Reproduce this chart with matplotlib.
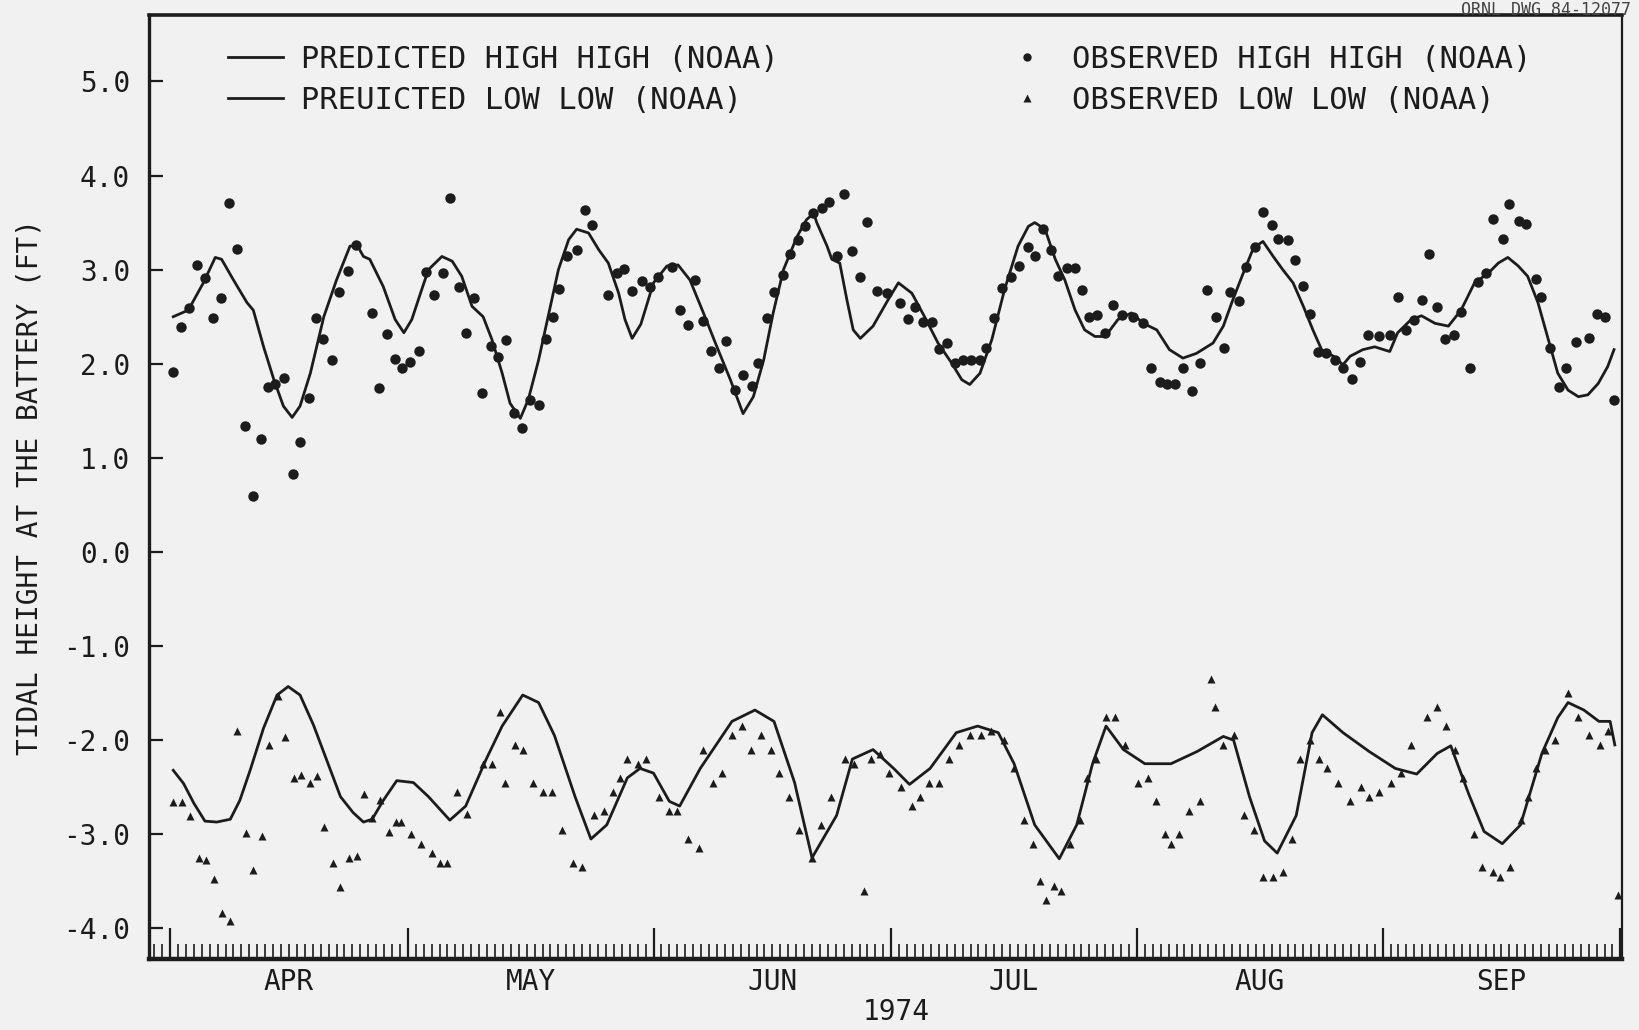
"""Predicted vs observed tidal heights at the Battery, 1974."""

import matplotlib

matplotlib.use("Agg")

import matplotlib.pyplot as plt
from matplotlib.lines import Line2D
from matplotlib.transforms import blended_transform_factory

# x = days after 1 April 1974
MONTH_STARTS = [0, 30, 61, 91, 122, 153, 183]
MONTH_MIDS = [15, 45.5, 76, 106.5, 137.5, 168]
MONTH_NAMES = ["APR", "MAY", "JUN", "JUL", "AUG", "SEP"]

pred_high_day = [0.4, 2.3, 4.2, 5.7, 6.5, 8.0, 9.7, 10.5, 11.8, 13.1, 14.3, 15.4, 16.4,
                 17.7, 19.4, 21.0, 22.7, 23.6, 24.4, 25.2, 26.9, 28.4, 29.5, 30.5, 31.6,
                 32.6, 34.3, 35.6, 36.8, 38.1, 39.5, 40.6, 41.9, 42.9, 44.2, 45.2, 46.5,
                 47.7, 49.0, 50.3, 51.3, 52.8, 54.1, 55.3, 56.6, 57.4, 58.3, 59.4, 61.0,
                 62.7, 64.1, 65.6, 67.3, 69.0, 70.7, 72.3, 73.6, 74.9, 76.1, 77.4, 79.1,
                 80.3, 81.2, 81.6, 82.9, 83.5, 84.5, 85.4, 86.2, 87.1, 88.7, 90.6, 91.9,
                 93.6, 95.2, 96.9, 98.6, 99.9, 100.9, 102.2, 103.7, 105.3, 107.0, 108.3,
                 109.1, 110.4, 111.7, 112.9, 114.2, 115.4, 116.7, 118.0, 119.6, 121.3,
                 122.8, 124.5, 126.1, 127.8, 129.5, 131.6, 132.9, 134.1, 135.4, 136.7,
                 137.9, 139.2, 140.4, 141.7, 143.0, 144.2, 145.3, 146.8, 148.0, 148.9,
                 150.5, 152.0, 153.9, 154.9, 156.6, 157.9, 159.6, 161.3, 162.9, 164.6,
                 166.3, 167.6, 168.8, 170.1, 171.3, 172.6, 173.9, 175.1, 176.4, 177.7,
                 178.9, 180.2, 181.4, 182.2]
pred_high_ft = [2.50, 2.57, 2.86, 3.13, 3.11, 2.89, 2.65, 2.57, 2.18, 1.83, 1.55, 1.43, 1.55,
                1.90, 2.50, 2.89, 3.25, 3.26, 3.14, 3.11, 2.82, 2.47, 2.33, 2.47, 2.75,
                3.00, 3.14, 3.09, 2.93, 2.61, 2.50, 2.26, 1.90, 1.58, 1.42, 1.62, 2.04,
                2.50, 3.00, 3.32, 3.43, 3.39, 3.21, 3.07, 2.75, 2.47, 2.27, 2.42, 2.86,
                3.04, 3.05, 2.89, 2.54, 2.18, 1.83, 1.47, 1.65, 2.04, 2.54, 3.00, 3.35,
                3.53, 3.60, 3.50, 3.25, 3.11, 3.07, 2.68, 2.36, 2.27, 2.40, 2.68, 2.86,
                2.75, 2.50, 2.22, 2.01, 1.83, 1.78, 1.90, 2.26, 2.79, 3.25, 3.46,
                3.50, 3.43, 3.11, 2.89, 2.57, 2.36, 2.29, 2.29, 2.47, 2.54,
                2.43, 2.36, 2.15, 2.06, 2.11, 2.22, 2.40, 2.68, 2.96, 3.23,
                3.30, 3.14, 3.00, 2.86, 2.61, 2.36, 2.15, 2.08, 1.99, 2.08,
                2.15, 2.18, 2.13, 2.33, 2.47, 2.51, 2.43, 2.40, 2.57, 2.86,
                2.96, 3.07, 3.13, 3.04, 2.93, 2.65, 2.26, 1.90, 1.72, 1.65,
                1.67, 1.79, 1.97, 2.15]

pred_low_day = [0.4, 1.7, 3.0, 4.4, 5.9, 7.6, 8.8, 10.1, 11.8, 13.5, 14.9, 16.4, 18.1,
                19.8, 21.5, 23.1, 24.4, 25.5, 26.9, 28.6, 30.7, 32.6, 35.3, 37.3, 39.9,
                41.9, 44.5, 46.5, 48.5, 51.1, 53.1, 55.1, 57.7, 59.3, 61.0, 63.0, 64.3,
                66.9, 70.9, 73.8, 76.2, 78.8, 81.0, 84.1, 86.1, 88.7, 91.3, 93.3, 95.9,
                99.2, 101.9, 104.5, 106.5, 109.1, 112.2, 114.4, 116.4, 118.1, 120.3,
                123.0, 126.3, 129.6, 132.9, 134.2, 136.2, 138.1, 139.7, 142.1, 144.1,
                145.4, 148.0, 151.3, 154.6, 157.3, 159.9, 161.6, 163.9, 165.8, 168.1,
                170.4, 173.1, 175.1, 176.4, 178.4, 180.3, 181.7, 182.3]
pred_low_ft = [-2.32, -2.46, -2.67, -2.86, -2.87, -2.84, -2.64, -2.32, -1.87, -1.52, -1.43,
               -1.52, -1.84, -2.22, -2.60, -2.77, -2.87, -2.84, -2.64, -2.43, -2.45, -2.60,
               -2.85, -2.70, -2.20, -1.85, -1.52, -1.60, -1.95, -2.60, -3.05, -2.90, -2.40,
               -2.30, -2.35, -2.65, -2.70, -2.30, -1.80, -1.68, -1.80, -2.45, -3.25, -2.80,
               -2.20, -2.10, -2.30, -2.47, -2.30, -1.92, -1.85, -1.92, -2.25, -2.90, -3.26,
               -2.90, -2.25, -1.85, -2.10, -2.25, -2.25, -2.12, -1.96, -2.00, -2.60, -3.07,
               -3.20, -2.80, -1.92, -1.73, -1.92, -2.12, -2.30, -2.36, -2.14, -2.06, -2.58,
               -2.97, -3.10, -2.90, -2.14, -1.76, -1.60, -1.68, -1.80, -1.80, -2.05]

obs_high_day = [0.4, 1.4, 2.4, 3.4, 4.4, 5.4, 6.4, 7.4, 8.4, 9.5, 10.4, 11.5, 12.4, 13.3,
                14.4, 15.5, 16.4, 17.5, 18.4, 19.3, 20.4, 21.3, 22.4, 23.4, 25.5, 26.4,
                27.4, 28.4, 29.3, 30.3, 31.4, 32.3, 33.3, 34.4, 35.3, 36.4, 37.3, 38.4,
                39.3, 40.5, 41.4, 42.4, 43.4, 44.4, 45.4, 46.5, 47.4, 48.3, 49.1, 50.1,
                51.3, 52.3, 53.3, 55.2, 56.4, 57.3, 58.3, 59.5, 60.6, 61.6, 63.3, 64.3,
                65.3, 66.2, 67.3, 68.3, 69.3, 70.2, 71.3, 72.3, 73.4, 74.2, 75.3, 76.2,
                77.3, 78.2, 79.2, 80.1, 81.1, 82.2, 83.1, 84.1, 85.0, 86.1, 87.1, 88.0,
                89.2, 90.5, 92.1, 93.1, 94.0, 95.0, 96.1, 97.0, 98.0, 99.0, 100.1, 101.1,
                102.2, 103.0, 104.0, 105.0, 106.1, 107.1, 108.2, 109.1, 110.2, 111.1,
                112.1, 113.2, 114.2, 115.1, 115.9, 117.0, 118.0, 119.0, 120.1, 121.5,
                122.8, 123.8, 124.9, 125.8, 126.8, 127.8, 128.9, 130.0, 130.9, 132.0,
                133.0, 133.8, 134.9, 135.8, 136.9, 137.9, 139.0, 139.8, 141.0, 141.9,
                143.0, 143.9, 144.9, 145.9, 147.0, 148.0, 149.1, 150.1, 151.2, 152.5,
                153.9, 154.9, 156.0, 157.0, 158.0, 158.9, 159.9, 160.9, 162.0, 162.9,
                164.0, 165.0, 166.0, 166.9, 168.2, 168.9, 170.2, 171.1, 172.3, 173.0,
                174.1, 175.3, 176.2, 177.4, 179.0, 180.1, 181.1, 182.2]
obs_high_ft = [1.91, 2.39, 2.59, 3.05, 2.91, 2.49, 2.70, 3.71, 3.22, 1.34, 0.60, 1.20, 1.75,
               1.78, 1.85, 0.83, 1.17, 1.64, 2.49, 2.26, 2.04, 2.76, 2.99, 3.26, 2.54, 1.74,
               2.32, 2.05, 1.95, 2.02, 2.14, 2.97, 2.73, 2.96, 3.76, 2.82, 2.33, 2.70,
               1.69, 2.19, 2.07, 2.25, 1.48, 1.32, 1.61, 1.56, 2.26, 2.50, 2.79, 3.15,
               3.21, 3.63, 3.47, 2.73, 2.96, 3.01, 2.77, 2.88, 2.82, 2.92, 3.03, 2.57,
               2.41, 2.89, 2.45, 2.14, 1.96, 2.24, 1.72, 1.88, 1.76, 2.01, 2.49, 2.76,
               2.94, 3.17, 3.32, 3.46, 3.60, 3.66, 3.72, 3.15, 3.80, 3.20, 2.92, 3.51,
               2.77, 2.75, 2.65, 2.48, 2.60, 2.44, 2.44, 2.16, 2.22, 2.01, 2.04, 2.04,
               2.04, 2.17, 2.49, 2.80, 2.92, 3.04, 3.24, 3.14, 3.43, 3.21,
               2.93, 3.02, 3.02, 2.78, 2.50, 2.52, 2.33, 2.62, 2.52, 2.50,
               2.43, 1.96, 1.81, 1.79, 1.79, 1.95, 1.71, 2.01, 2.78, 2.50,
               2.17, 2.76, 2.67, 3.03, 3.24, 3.61, 3.47, 3.33, 3.32, 3.10,
               2.83, 2.53, 2.12, 2.11, 2.04, 1.96, 1.84, 2.02, 2.31, 2.30,
               2.31, 2.71, 2.36, 2.46, 2.68, 3.17, 2.60, 2.26, 2.31, 2.55,
               1.96, 2.87, 2.96, 3.54, 3.33, 3.70, 3.52, 3.48, 2.90, 2.71,
               2.17, 1.75, 1.96, 2.23, 2.27, 2.53, 2.50, 1.62]

obs_low_day = [0.4, 1.5, 2.5, 3.6, 4.5, 5.6, 6.5, 7.6, 8.5, 9.6, 10.5, 11.6, 12.5, 13.6,
               14.5, 15.6, 16.5, 17.6, 18.5, 19.4, 20.5, 21.5, 22.6, 23.6, 24.5, 25.5,
               26.5, 27.6, 28.5, 29.1, 30.4, 31.7, 33.0, 34.1, 34.9, 36.2, 37.5, 39.5,
               40.6, 41.6, 42.3, 43.5, 44.5, 45.8, 47.1, 48.2, 49.5, 50.8, 52.0, 53.5,
               54.7, 55.9, 56.8, 57.7, 59.0, 60.1, 61.7, 63.0, 64.0, 65.3, 66.7, 67.3,
               68.5, 69.6, 70.9, 72.2, 73.3, 74.6, 75.8, 76.8, 78.1, 79.4, 81.0, 82.1,
               83.4, 85.1, 86.3, 87.5, 88.4, 89.6, 90.7, 92.2, 93.6, 94.6, 95.7, 97.0,
               98.3, 99.6, 100.9, 102.3, 103.6, 105.2, 106.5, 107.8, 108.9, 109.8, 110.5,
               111.5, 112.4, 113.5, 114.8, 115.7, 116.8, 118.1, 119.2, 120.5, 122.1,
               123.4, 124.4, 125.6, 126.3, 127.3, 128.6, 129.9, 131.3, 131.9, 132.8,
               134.2, 135.5, 136.8, 137.9, 139.2, 140.4, 141.6, 142.6, 143.9, 145.0,
               146.0, 147.4, 148.9, 150.3, 151.3, 152.6, 154.0, 155.3, 156.6, 158.6,
               159.9, 161.0, 162.1, 163.2, 164.5, 165.6, 166.9, 167.8, 169.1, 170.4,
               171.4, 172.4, 173.5, 174.8, 176.4, 177.7, 179.0, 180.4, 181.4, 182.7]
obs_low_ft = [-2.66, -2.66, -2.81, -3.25, -3.27, -3.48, -3.84, -3.92, -1.90, -2.99, -3.38,
              -3.02, -2.05, -1.53, -1.97, -2.40, -2.37, -2.46, -2.38, -2.92, -3.31, -3.56,
              -3.25, -3.23, -2.57, -2.83, -2.64, -2.98, -2.87, -2.87, -3.00, -3.10, -3.20,
              -3.30, -3.30, -2.55, -2.78, -2.25, -2.25, -1.70, -2.45, -2.05, -2.10, -2.45,
              -2.55, -2.55, -2.95, -3.30, -3.35, -2.80, -2.75, -2.55, -2.40, -2.20, -2.25,
              -2.20, -2.60, -2.75, -2.75, -3.05, -3.15, -2.10, -2.45, -2.35, -1.95, -1.85,
              -2.10, -1.95, -2.10, -2.35, -2.60, -2.95, -3.25, -2.90, -2.60, -2.20, -2.25,
              -3.60, -2.20, -2.15, -2.35, -2.50, -2.70, -2.60, -2.45, -2.45, -2.20, -2.05,
              -1.95, -1.95, -1.90, -2.00, -2.30, -2.85, -3.10, -3.50, -3.70, -3.55, -3.60,
              -3.10, -2.85, -2.40, -2.20, -1.75, -1.75, -2.05, -2.45, -2.40, -2.65, -3.00,
              -3.10, -3.00, -2.75, -2.65, -1.35, -1.65, -2.05, -1.95, -2.80, -2.95, -3.45,
              -3.45, -3.40, -3.05, -2.20, -2.00, -2.20, -2.30, -2.45, -2.65, -2.50, -2.60,
              -2.55, -2.45, -2.35, -2.05, -1.75, -1.65, -1.85, -2.10, -2.40, -3.00, -3.35,
              -3.40, -3.45, -3.35, -2.85, -2.60, -2.30, -2.10, -2.00, -1.50, -1.75, -1.95,
              -2.05, -1.90, -3.65]

INK = "#1c1c1c"
PAPER = "#f1f1f1"

plt.rcParams["font.family"] = "DejaVu Sans Mono"

fig = plt.figure(figsize=(16.39, 10.30), dpi=100, facecolor=PAPER)
ax = fig.add_axes([0.0912, 0.0694, 0.8984, 0.9164], facecolor=PAPER)

ax.plot(pred_high_day, pred_high_ft, color=INK, lw=2.0)
ax.plot(pred_low_day, pred_low_ft, color=INK, lw=2.0)
ax.plot(obs_high_day, obs_high_ft, "o", color=INK, ms=7.5, mec="none")
ax.plot(obs_low_day, obs_low_ft, "^", color=INK, ms=5.5, mec="none")

ax.set_xlim(-2.6, 183.2)
ax.set_ylim(-4.32, 5.71)

ax.set_yticks([5, 4, 3, 2, 1, 0, -1, -2, -3, -4])
ax.set_yticklabels(["5.0", "4.0", "3.0", "2.0", "1.0", "0.0",
                    "-1.0", "-2.0", "-3.0", "-4.0"])
ax.set_xticks(MONTH_STARTS)
ax.set_xticklabels([])
ax.set_xticks(range(-2, 184), minor=True)
ax.tick_params(axis="both", which="both", direction="in", color=INK,
               labelcolor=INK, labelsize=20)
ax.tick_params(axis="y", length=10, width=1.6, pad=14, right=False)
ax.tick_params(axis="x", which="major", length=22, width=1.6, top=False)
ax.tick_params(axis="x", which="minor", length=11, width=1.2, top=False)

for side, lw in [("left", 2.4), ("bottom", 3.2), ("top", 2.6), ("right", 1.6)]:
    ax.spines[side].set_linewidth(lw)
    ax.spines[side].set_color(INK)

xt = blended_transform_factory(ax.transData, ax.transAxes)
for mid, name in zip(MONTH_MIDS, MONTH_NAMES):
    ax.text(mid, -0.025, name, transform=xt, ha="center", va="center",
            fontsize=20, color=INK)
ax.text(91.6, -0.057, "1974", transform=xt, ha="center", va="center",
        fontsize=20, color=INK)

ax.set_ylabel("TIDAL HEIGHT AT THE BATTERY (FT)", fontsize=20, color=INK, labelpad=14)

line_handles = [Line2D([], [], color=INK, lw=2.0), Line2D([], [], color=INK, lw=2.0)]
leg1 = ax.legend(line_handles,
                 ["PREDICTED HIGH HIGH (NOAA)", "PREUICTED LOW LOW (NOAA)"],
                 loc="upper left", bbox_to_anchor=(0.053, 0.968), frameon=False,
                 fontsize=22, handlelength=1.8, handletextpad=0.6, labelspacing=0.39,
                 borderaxespad=0, borderpad=0, labelcolor=INK)
ax.add_artist(leg1)
mark_handles = [Line2D([], [], ls="none", marker="o", color=INK, ms=6, mec="none"),
                Line2D([], [], ls="none", marker="^", color=INK, ms=5.5, mec="none")]
ax.legend(mark_handles, ["OBSERVED HIGH HIGH (NOAA)", "OBSERVED LOW LOW (NOAA)"],
          loc="upper left", bbox_to_anchor=(0.577, 0.968), frameon=False,
          fontsize=22, handlelength=1.8, handletextpad=0.6, labelspacing=0.39,
          borderaxespad=0, borderpad=0, labelcolor=INK, numpoints=1)

fig.text(0.995, 0.999, "ORNL DWG 84-12077", ha="right", va="top", fontsize=12,
         color="#444444")

fig.savefig("out.png", dpi=100, facecolor=PAPER)
